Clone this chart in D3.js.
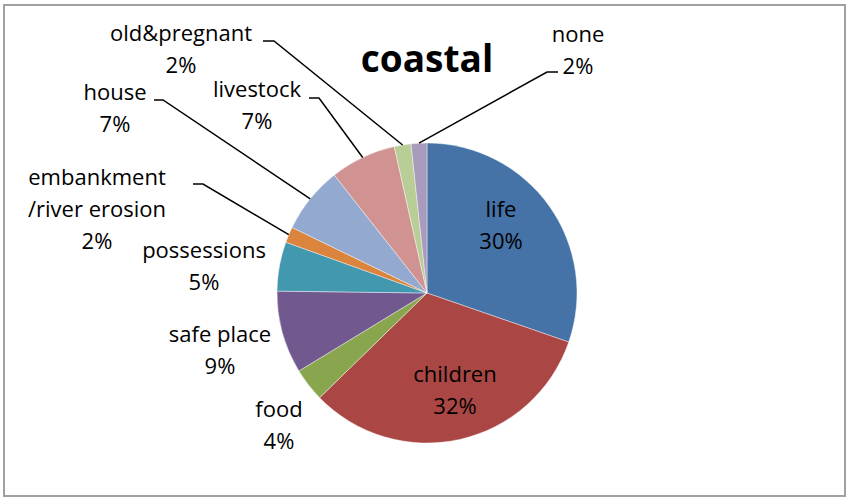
<!DOCTYPE html>
<html>
<head>
<meta charset="utf-8">
<script src="https://cdn.jsdelivr.net/npm/d3@7"></script>
<style>
  html, body { margin: 0; padding: 0; background: #fff; }
  svg { display: block; }
  text { font-family: "Open Sans", sans-serif; fill: #000; }
</style>
</head>
<body>
<svg id="chart" width="849" height="499"></svg>
<script>
// ---- data ----
const categories = ["life", "children", "food", "safe place", "possessions",
  "embankment\n/river erosion", "house", "livestock", "old&pregnant", "none"];
const values = [30.3, 32.4, 3.6, 8.9, 5.3, 1.7, 7.2, 7.1, 1.8, 1.7];
const colors = ["#4572A7", "#AA4643", "#89A54E", "#71588F", "#4198AF",
  "#DB843D", "#93A9CF", "#D19392", "#B9CD96", "#A99BBD"];
const title = "coastal";

// label anchor (centre x, first baseline y) and leader lines
const labelPos = [
  [501, 217], [455, 382], [279, 417], [220, 342], [204, 258],
  [97, 185], [115, 100], [257, 97], [181, 41], [578, 42]
];
// leader: [x start, y, x end of horizontal], leader runs to the slice edge
const leaders = {
  5: [193, 184, 203],
  6: [154, 100, 163],
  7: [309, 98, 319],
  8: [263, 41, 274],
  9: [558, 72, 547]
};

const svg = d3.select("#chart");
const W = 849, H = 499;

// frame
svg.append("rect").attr("x", 4).attr("y", 5).attr("width", 841).attr("height", 491)
  .attr("fill", "#fff").attr("stroke", "#a0a0a0").attr("stroke-width", 2);

// title
svg.append("text").attr("x", 427).attr("y", 72).attr("text-anchor", "middle")
  .style("font-size", "37px").style("font-weight", "bold").text(title);

const cx = 427, cy = 293, r = 150;
const total = d3.sum(values);
const data = categories.map((c, i) => ({ c, v: values[i], i }));
const pie = d3.pie().value(d => d.v).sort(null);
const arcs = pie(data);
const arc = d3.arc().innerRadius(0).outerRadius(r);

const g = svg.append("g").attr("transform", `translate(${cx},${cy})`);
g.selectAll("path").data(arcs).join("path")
  .attr("d", arc)
  .attr("fill", d => colors[d.data.i])
  .attr("stroke", "rgba(255,255,255,0.6)")
  .attr("stroke-width", 0.7);

// leader lines
const edgeArc = d3.arc().innerRadius(r).outerRadius(r);
Object.keys(leaders).forEach(k => {
  const a = arcs[+k];
  const [x0, y0, x1] = leaders[k];
  const mid = (a.startAngle + a.endAngle) / 2;
  const ex = cx + r * Math.sin(mid), ey = cy - r * Math.cos(mid);
  svg.append("polyline")
    .attr("points", `${x0},${y0} ${x1},${y0} ${ex},${ey}`)
    .attr("fill", "none").attr("stroke", "#000").attr("stroke-width", 1.5);
});

// labels
const lh = 32;
arcs.forEach((a, i) => {
  const lines = categories[i].split("\n");
  const pct = Math.round(a.data.v / total * 100) + "%";
  lines.push(pct);
  const t = svg.append("text").attr("text-anchor", "middle").style("font-size", "22px");
  lines.forEach((ln, j) => {
    t.append("tspan").attr("x", labelPos[i][0]).attr("y", labelPos[i][1] + j * lh).text(ln);
  });
});
</script>
</body>
</html>
